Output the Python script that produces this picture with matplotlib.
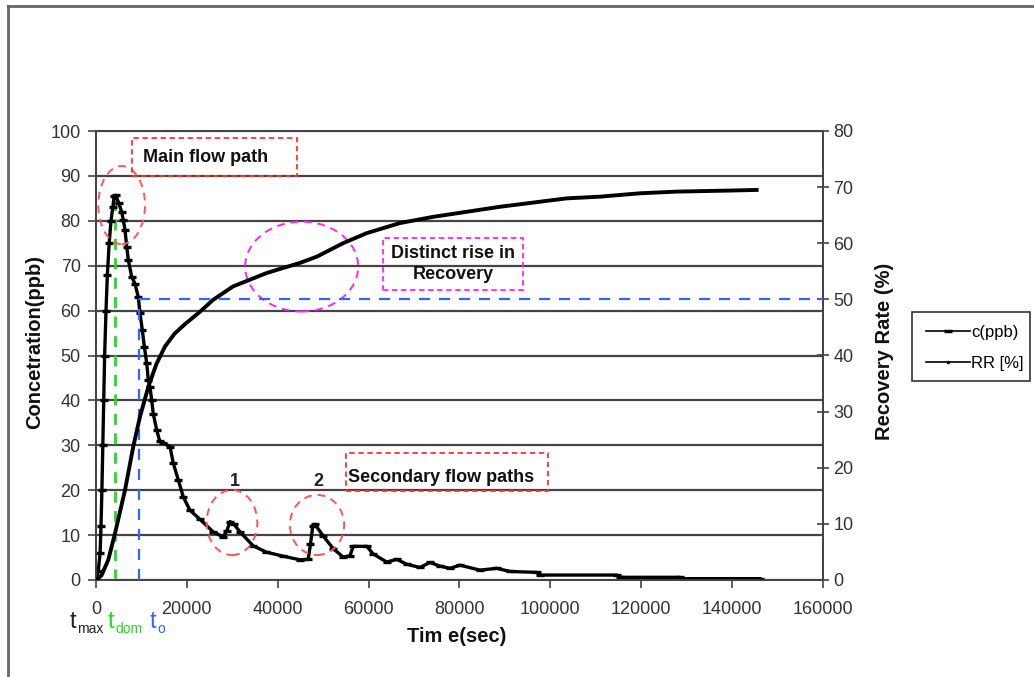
import numpy as np
import matplotlib
matplotlib.use("Agg")
import matplotlib.pyplot as plt
from matplotlib.patches import Ellipse, Rectangle
from matplotlib.lines import Line2D

plt.rcParams['font.family'] = ['Liberation Sans', 'DejaVu Sans']

W, H = 1034, 677

# concentration c(ppb) vs time (s)
conc_t = [0, 500, 900, 1100, 1300, 1500, 1700, 1900, 2200, 2500, 2900, 3300, 3700,
          4000, 4300, 5000, 5650, 6010, 6380, 6760, 7110, 7860, 8580, 9310, 9680,
          10190, 10630, 11160, 11510, 11880, 12260, 12610, 13360, 14000, 14810,
          16290, 17010, 18110, 19210, 20700, 22900, 25800, 28000, 28800, 29500,
          30300, 31700, 34600, 37500, 41200, 44900, 46700, 47200, 47700, 48200,
          50000, 52200, 54400, 55900, 56600, 59600, 61000, 64000, 66200, 68400,
          71300, 73500, 75700, 77900, 80100, 84500, 88200, 91100, 97000, 97700,
          114600, 115300, 128500, 129200, 146100]
conc_c = [0, 2, 6, 12, 20, 30, 40, 50, 60, 68, 75, 80, 83,
          85.5, 85.7, 84, 82, 80.2, 78, 74.2, 71.3, 67.5, 66, 63, 59.4,
          55.7, 52, 48.3, 44.5, 43, 40, 37, 33.4, 31, 30.5,
          29.7, 26, 22.3, 18.5, 15.5, 13.5, 10.7, 9.6, 11, 13,
          12.5, 10.7, 7.6, 6.2, 5.3, 4.5, 4.6, 8, 12, 12.4,
          9.8, 7, 5.1, 5.4, 7.5, 7.5, 5.8, 4, 4.6, 3.5,
          2.8, 3.9, 3.1, 2.6, 3.3, 2.2, 2.6, 1.9, 1.7, 1.1,
          1.1, 0.6, 0.6, 0.3, 0.3]

# recovery rate RR [%] vs time (s)
rr_t = [0, 1200, 2710, 4180, 6380, 8210, 9680, 11510, 13300, 15180, 17300, 19590,
        22890, 25750, 30150, 37570, 44890, 48570, 54360, 59570, 66900, 74160,
        88910, 103590, 110900, 119700, 127800, 140200, 145400]
rr_v = [0, 0.8, 3.6, 8.3, 16.0, 23.8, 29.1, 34.4, 38.5, 41.6, 43.9, 45.6,
        47.8, 49.9, 52.3, 54.7, 56.5, 57.6, 60.0, 61.8, 63.6, 64.7,
        66.5, 68.0, 68.3, 68.9, 69.2, 69.4, 69.5]

t_dom = 4180      # green marker time
c_peak = 85.7
t_o = 9460        # blue marker time
rr_half = 50

x_ticks = np.arange(0, 160001, 20000)
left_ticks = np.arange(0, 101, 10)
right_ticks = np.arange(0, 81, 10)


def fpos(x, y):
    return x / W, 1 - y / H


fig = plt.figure(figsize=(W / 100, H / 100), dpi=100)
ax = fig.add_axes([96 / W, 1 - 580 / H, (823 - 96) / W, (580 - 131) / H])
ax2 = ax.twinx()

tick_col = '#333333'
ax.set_xlim(0, 160000)
ax.set_ylim(0, 100)
ax2.set_ylim(0, 80)
ax.set_xticks(x_ticks)
ax.set_xticklabels([str(v) for v in x_ticks])
ax.set_yticks(left_ticks)
ax2.set_yticks(right_ticks)
ax.tick_params(axis='x', direction='out', length=6, width=1.2, pad=9,
               labelsize=13, labelcolor=tick_col, color='#444444')
ax.tick_params(axis='y', direction='out', length=6, width=1.2, pad=5,
               labelsize=13, labelcolor=tick_col, color='#444444')
ax2.tick_params(axis='y', direction='inout', length=9, width=1.2, pad=3,
                labelsize=13, labelcolor=tick_col, color='#444444')
ax.yaxis.grid(True, color='#444444', lw=1.6)
ax.set_axisbelow(True)
for a in (ax, ax2):
    for s in a.spines.values():
        s.set_color('#444444')
        s.set_linewidth(1.3)

ax.plot(conc_t, conc_c, color='black', lw=2.4, marker='_', ms=6, mew=2.4, zorder=5)
ax2.plot(rr_t, rr_v, color='black', lw=2.8, zorder=5)

# dashed guide lines
ax.plot([t_dom, t_dom], [0, c_peak], color='#22dd22', lw=2, ls=(0, (4, 3)), zorder=4)
ax2.plot([t_o, t_o], [0, rr_half], color='#3366ff', lw=1.6, ls=(0, (5, 4)), zorder=4)
ax2.plot([t_o, 160000], [rr_half, rr_half], color='#3366ff', lw=1.6, ls=(0, (5, 4)), zorder=4)

# ellipses
for (cx, cy, ew, eh, col) in [(5650, 83.5, 10280, 17.4, '#ff5555'),
                              (29930, 12.8, 11160, 14.5, '#ff5555'),
                              (48640, 12.25, 11950, 13.4, '#ff5555'),
                              (45270, 69.8, 24870, 20.0, '#ff22ff')]:
    ax.add_patch(Ellipse((cx, cy), ew, eh, fill=False, ec=col, lw=1.4,
                         ls=(0, (4, 3)), zorder=6))


def dashed_box(x0, y0, x1, y1, col, ls=(0, (3, 2)), lw=1.3):
    fx0, fy1 = fpos(x0, y1)
    fx1, fy0 = fpos(x1, y0)
    fig.add_artist(Rectangle((fx0, fy1), fx1 - fx0, fy0 - fy1, transform=fig.transFigure,
                             fill=False, ec=col, lw=lw, ls=ls, zorder=7))


dashed_box(132, 138, 297, 176, '#ff3333')
fig.text(*fpos(143, 158), 'Main flow path', fontsize=13, fontweight='bold',
         ha='left', va='center', color='#111111')
dashed_box(383, 238, 523, 290, '#ff22ff')
fig.text(*fpos(453, 264), 'Distinct rise in\nRecovery', fontsize=13, fontweight='bold',
         ha='center', va='center', color='#111111', linespacing=1.35)
dashed_box(346, 453, 548, 491, '#ff3333')
fig.text(*fpos(348, 477), 'Secondary flow paths', fontsize=13, fontweight='bold',
         ha='left', va='center', color='#111111')
fig.text(*fpos(235, 481), '1', fontsize=13, fontweight='bold', ha='center', va='center',
         color='#222222')
fig.text(*fpos(318, 481), '2', fontsize=13, fontweight='bold', ha='center', va='center',
         color='#222222')

# axis labels
fig.text(*fpos(35, 342), 'Concetration(ppb)', rotation=90, fontsize=14.5, fontweight='bold',
         ha='center', va='center', color='#111111')
fig.text(*fpos(884, 351), 'Recovery Rate (%)', rotation=90, fontsize=14.5, fontweight='bold',
         ha='center', va='center', color='#111111')
fig.text(*fpos(457, 637), 'Tim e(sec)', fontsize=14.5, fontweight='bold',
         ha='center', va='center', color='#111111')

# time markers under the axis
for (x, sub, col) in [(70, 'max', '#222222'), (108, 'dom', '#22dd22'), (150, 'o', '#3366ff')]:
    fig.text(*fpos(x, 622), 't', fontsize=17, ha='left', va='center', color=col)
    fig.text(*fpos(x + 7, 629), sub, fontsize=10, ha='left', va='center', color=col)

# legend (frame drawn separately)
dashed_box(912, 312, 1030, 381, '#333333', ls='-', lw=1.2)
handles = [Line2D([], [], color='black', lw=1.2, marker='_', ms=6, mew=2.5),
           Line2D([], [], color='black', lw=1.2, marker='.', ms=3)]
leg = ax.legend(handles, ['c(ppb)', 'RR [%]'], loc='center left',
                bbox_to_anchor=fpos(918, 348), bbox_transform=fig.transFigure,
                fontsize=12, frameon=False, handlelength=2.6,
                handletextpad=0.1, borderpad=0, labelspacing=0.95)

# outer chart frame
fig.add_artist(Line2D([8 / W, 1.0], [1 - 6 / H, 1 - 6 / H], transform=fig.transFigure,
                      color='#666666', lw=2))
fig.add_artist(Line2D([8 / W, 8 / W], [0, 1 - 6 / H], transform=fig.transFigure,
                      color='#666666', lw=2))

fig.savefig('out.png', dpi=100)
